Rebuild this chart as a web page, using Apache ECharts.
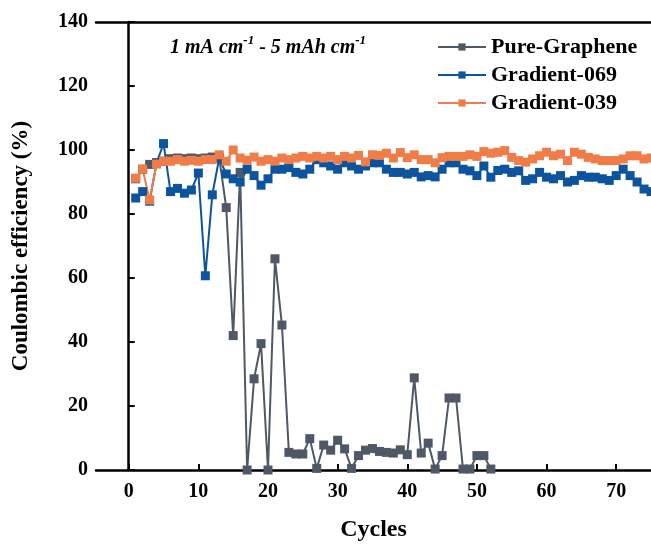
<!DOCTYPE html>
<html>
<head>
<meta charset="utf-8">
<script src="https://cdn.jsdelivr.net/npm/echarts@6/dist/echarts.min.js"></script>
<style>
    html, body { margin: 0; padding: 0; background: #fff; }
    #chart { width: 651px; height: 547px; }
</style>
</head>
<body>
<div id="chart"></div>
<script>
// 数据
var seriesNames = ['Pure-Graphene', 'Gradient-069', 'Gradient-039'];
var xTicks = [0, 10, 20, 30, 40, 50, 60, 70];
var pureGraphene = [91, 94, 95.5, 96, 96.5, 97.3, 97.5, 97.3, 97.5, 97.3, 97.5, 97.8, 97.5, 82, 42,
    93, 0, 28.5, 39.5, 0, 66, 45.3, 5.5, 5, 5, 9.8, 0.5, 7.8, 6.2, 9.3,
    6.6, 0.5, 4.5, 6.2, 6.7, 5.8, 5.5, 5.3, 6.3, 4.8, 28.8, 5.3, 8.4, 0.3, 4.5,
    22.5, 22.5, 0.3, 0.3, 4.5, 4.5, 0.3];
var gradient069 = [85, 87, 84, 96, 102, 87, 88, 86.5, 87.5, 92.8, 60.7, 86, 97.5, 92.5, 91,
    90, 94, 92, 89, 91, 94, 94, 94.5, 93, 92.5, 94, 97, 96, 95, 94,
    96, 95, 94, 95, 96, 96, 94, 93, 93, 92.5, 93, 91.6, 92, 91.6, 94,
    96, 96, 94, 93.5, 92, 95, 91.5, 93.6, 94, 93, 93.5, 90.5, 91, 93, 91.5,
    91, 92, 90, 90.5, 92, 91.5, 91.5, 91, 90.5, 92, 94, 92, 90, 87.8, 87];
var gradient039 = [91.2, 94, 84.4, 95.6, 96.5, 96.5, 97, 96.5, 96.8, 96.5, 97, 97, 98.5, 96.5, 100,
    97.5, 96.8, 97.8, 96.5, 97, 96.5, 97.5, 97, 97.5, 98, 97.5, 98, 97.5, 98, 97,
    98, 97.5, 98.3, 96.3, 98.5, 98.3, 99, 97.5, 99.2, 97.6, 98.5, 97, 97, 96, 97.6,
    98, 98, 98, 98.5, 98, 99.5, 99, 99.3, 99.8, 97.7, 96.7, 96.2, 97.2, 98.2, 99.3,
    98.2, 98.7, 96.7, 99.3, 98.7, 97.7, 97.2, 96.7, 96.7, 96.7, 97.2, 98.2, 98.2, 97.2, 97.5];

function toPairs(arr) {
    return arr.map(function (v, i) { return [i + 1, v]; });
}

var font = '"Liberation Serif", "Times New Roman", serif';
var myChart = echarts.init(document.getElementById('chart'), null, { renderer: 'canvas' });

function lineSeries(name, data, color) {
    return {
        name: name,
        type: 'line',
        data: toPairs(data),
        symbol: 'rect',
        symbolSize: 9,
        clip: true,
        animation: false,
        lineStyle: { color: color, width: 2 },
        itemStyle: { color: color }
    };
}

var option = {
    animation: false,
    title: {
        left: 165,
        top: 29,
        text: '{a|1 mA cm}{s|-1}{a| - 5 mAh cm}{s|-1}',
        textStyle: {
            rich: {
                a: { fontFamily: font, fontStyle: 'italic', fontWeight: 'bold', fontSize: 20, color: '#000', verticalAlign: 'bottom', lineHeight: 24 },
                s: { fontFamily: font, fontStyle: 'italic', fontWeight: 'bold', fontSize: 13, color: '#000', verticalAlign: 'top', lineHeight: 24 }
            }
        }
    },
    legend: {
        orient: 'vertical',
        left: 432,
        top: 31,
        itemWidth: 48,
        itemHeight: 9,
        itemGap: 6,
        data: seriesNames,
        textStyle: { fontFamily: font, fontWeight: 'bold', fontSize: 22, color: '#000' }
    },
    grid: { left: 96, right: 0, top: 22, bottom: 75, containLabel: false },
    xAxis: [{
        type: 'value',
        min: -4.7,
        max: 75,
        name: 'Cycles',
        nameLocation: 'middle',
        nameGap: 48,
        nameTextStyle: { fontFamily: font, fontWeight: 'bold', fontSize: 24, color: '#000' },
        axisLine: { lineStyle: { color: '#000', width: 2.5 } },
        axisTick: { inside: true, length: 6, lineStyle: { color: '#000', width: 2 }, customValues: xTicks },
        axisLabel: { customValues: xTicks, margin: 12, fontFamily: font, fontWeight: 'bold', fontSize: 20, color: '#000' },
        splitLine: { show: false }
    }, {
        type: 'value',
        position: 'top',
        min: -4.7,
        max: 75,
        axisLine: { onZero: false, lineStyle: { color: '#000', width: 2.5 } },
        axisTick: { show: false },
        axisLabel: { show: false },
        splitLine: { show: false }
    }],
    yAxis: {
        type: 'value',
        min: 0,
        max: 140,
        interval: 20,
        name: 'Coulombic efficiency (%)',
        nameLocation: 'middle',
        nameGap: 63,
        nameTextStyle: { fontFamily: font, fontWeight: 'bold', fontSize: 23, color: '#000' },
        axisLine: { show: true, lineStyle: { color: '#000', width: 2.5 } },
        axisTick: { show: true, inside: true, length: 6, lineStyle: { color: '#000', width: 2 } },
        axisLabel: { margin: 8, fontFamily: font, fontWeight: 'bold', fontSize: 20, color: '#000' },
        splitLine: { show: false }
    },
    series: [
        lineSeries(seriesNames[0], pureGraphene, '#4f5866'),
        lineSeries(seriesNames[1], gradient069, '#0d549f'),
        lineSeries(seriesNames[2], gradient039, '#f07c48')
    ]
};
myChart.setOption(option);
</script>
</body>
</html>
